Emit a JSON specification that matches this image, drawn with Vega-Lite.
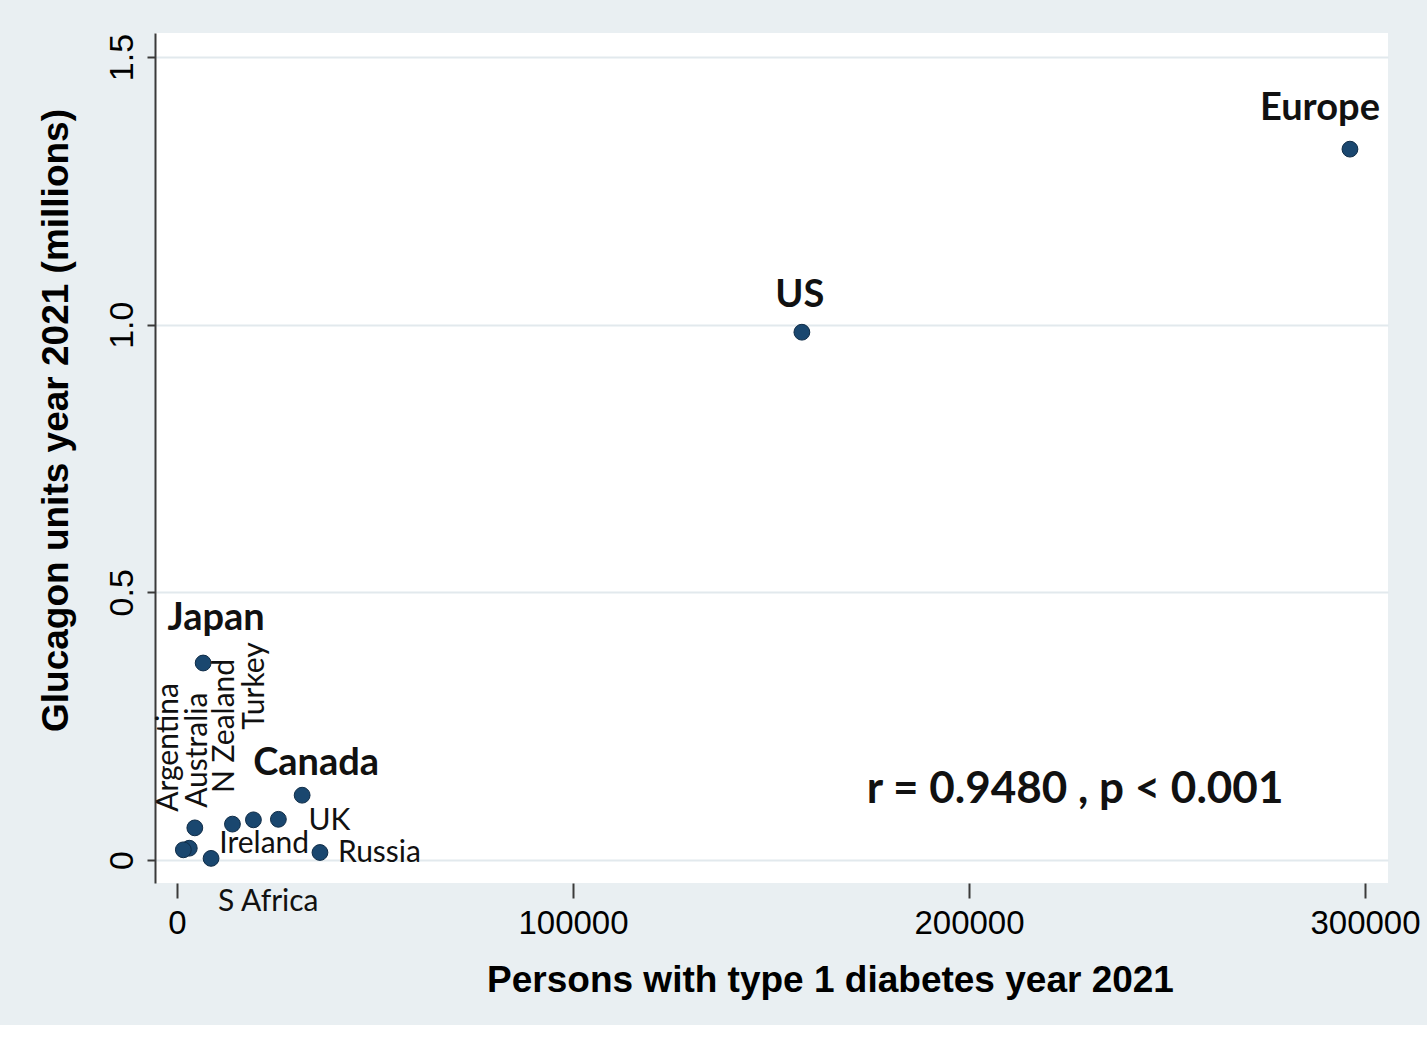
{
  "$schema": "https://vega.github.io/schema/vega-lite/v6.json",
  "width": 1233,
  "height": 850,
  "autosize": {"type": "none"},
  "padding": {"left": 155, "top": 33, "right": 39, "bottom": 142},
  "background": "#e9eff2",
  "config": {
    "view": {"fill": "white", "stroke": null},
    "text": {"color": "#111111"}
  },
  "datasets": {
    "points": [
      {"country": "Europe", "t1d": 296200, "units": 1.328},
      {"country": "US", "t1d": 157800, "units": 0.986},
      {"country": "Japan", "t1d": 6600, "units": 0.368},
      {"country": "Canada", "t1d": 31600, "units": 0.121},
      {"country": "UK", "t1d": 25600, "units": 0.076},
      {"country": "Turkey", "t1d": 19300, "units": 0.075},
      {"country": "N Zealand", "t1d": 14000, "units": 0.067},
      {"country": "Australia", "t1d": 4500, "units": 0.060},
      {"country": "Ireland", "t1d": 3100, "units": 0.022},
      {"country": "Argentina", "t1d": 1600, "units": 0.019},
      {"country": "S Africa", "t1d": 8600, "units": 0.003},
      {"country": "Russia", "t1d": 36100, "units": 0.014}
    ],
    "note": [
      {"t1d": 226800, "units": 0.1065, "label": "r = 0.9480 , p < 0.001"}
    ]
  },
  "data": {"name": "points"},
  "encoding": {
    "x": {
      "field": "t1d",
      "type": "quantitative",
      "scale": {"domain": [-5556, 305808], "nice": false, "zero": false},
      "axis": {
        "title": "Persons with type 1 diabetes year 2021",
        "values": [0, 100000, 200000, 300000],
        "format": "d",
        "domain": false,
        "grid": false,
        "tickSize": 15,
        "tickColor": "#3a3a3a",
        "tickWidth": 2,
        "labelFont": "Liberation Sans",
        "labelFontSize": 33,
        "labelColor": "#000000",
        "labelPadding": 35,
        "labelBaseline": "alphabetic",
        "labelAlign": "center",
        "labelFlush": false,
        "labelOverlap": false,
        "titleFont": "Liberation Sans",
        "titleFontSize": 37,
        "titleFontWeight": "bold",
        "titleColor": "#000000",
        "titleX": 675,
        "titleY": 108,
        "titleBaseline": "alphabetic",
        "titleAlign": "center",
        "titleAnchor": null
      }
    },
    "y": {
      "field": "units",
      "type": "quantitative",
      "scale": {"domain": [-0.043, 1.545], "nice": false, "zero": false},
      "axis": {
        "title": "Glucagon units year 2021 (millions)",
        "values": [0, 0.5, 1, 1.5],
        "labelExpr": "datum.value == 0 ? '0' : format(datum.value, '.1f')",
        "domain": true,
        "domainColor": "#3a3a3a",
        "domainWidth": 2,
        "grid": true,
        "gridColor": "#e2e9ed",
        "gridWidth": 2,
        "tickSize": 8,
        "tickColor": "#3a3a3a",
        "tickWidth": 2,
        "labelFont": "Liberation Sans",
        "labelFontSize": 34,
        "labelColor": "#000000",
        "labelAngle": 270,
        "labelAlign": "center",
        "labelBaseline": "alphabetic",
        "labelPadding": 15,
        "labelFlush": false,
        "labelOverlap": false,
        "titleFont": "Liberation Sans",
        "titleFontSize": 37,
        "titleFontWeight": "bold",
        "titleColor": "#000000",
        "titleAngle": 270,
        "titleX": -88,
        "titleY": 387,
        "titleBaseline": "alphabetic",
        "titleAlign": "center",
        "titleAnchor": null
      }
    }
  },
  "layer": [
    {
      "data": {"values": [{}]},
      "mark": {"type": "rule", "color": "#3a3a3a", "strokeWidth": 2},
      "encoding": {
        "x": {"datum": 0, "type": "quantitative"},
        "x2": {"datum": 300000},
        "y": {"datum": -0.043, "type": "quantitative"}
      }
    },
    {
      "mark": {"type": "point", "filled": true, "shape": "circle", "size": 250, "color": "#1a476f", "opacity": 1, "stroke": "#0f2c47", "strokeWidth": 1}
    },
    {
      "transform": [{"filter": "datum.country === 'Europe'"}],
      "mark": {"type": "text", "font": "Lato", "fontWeight": "bold", "fontSize": 38, "align": "center", "baseline": "alphabetic", "dx": -30, "dy": -29},
      "encoding": {"text": {"field": "country"}}
    },
    {
      "transform": [{"filter": "datum.country === 'US'"}],
      "mark": {"type": "text", "font": "Lato", "fontWeight": "bold", "fontSize": 38, "align": "center", "baseline": "alphabetic", "dx": -2, "dy": -25},
      "encoding": {"text": {"field": "country"}}
    },
    {
      "transform": [{"filter": "datum.country === 'Japan'"}],
      "mark": {"type": "text", "font": "Lato", "fontWeight": "bold", "fontSize": 38, "align": "center", "baseline": "alphabetic", "dx": 13, "dy": -33},
      "encoding": {"text": {"field": "country"}}
    },
    {
      "transform": [{"filter": "datum.country === 'Canada'"}],
      "mark": {"type": "text", "font": "Lato", "fontWeight": "bold", "fontSize": 38, "align": "center", "baseline": "alphabetic", "dx": 14, "dy": -20},
      "encoding": {"text": {"field": "country"}}
    },
    {
      "transform": [{"filter": "datum.country === 'UK'"}],
      "mark": {"type": "text", "font": "Lato", "fontSize": 30, "align": "left", "baseline": "alphabetic", "dx": 30, "dy": 11},
      "encoding": {"text": {"field": "country"}}
    },
    {
      "transform": [{"filter": "datum.country === 'Ireland'"}],
      "mark": {"type": "text", "font": "Lato", "fontSize": 30, "align": "left", "baseline": "alphabetic", "dx": 30, "dy": 5},
      "encoding": {"text": {"field": "country"}}
    },
    {
      "transform": [{"filter": "datum.country === 'Russia'"}],
      "mark": {"type": "text", "font": "Lato", "fontSize": 30, "align": "left", "baseline": "alphabetic", "dx": 18, "dy": 10},
      "encoding": {"text": {"field": "country"}}
    },
    {
      "transform": [{"filter": "datum.country === 'S Africa'"}],
      "mark": {"type": "text", "font": "Lato", "fontSize": 30, "align": "left", "baseline": "alphabetic", "dx": 7, "dy": 53},
      "encoding": {"text": {"field": "country"}}
    },
    {
      "transform": [{"filter": "datum.country === 'Argentina'"}],
      "mark": {"type": "text", "font": "Lato", "fontSize": 30, "angle": 270, "align": "left", "baseline": "alphabetic", "dx": 38, "dy": -5},
      "encoding": {"text": {"field": "country"}}
    },
    {
      "transform": [{"filter": "datum.country === 'Australia'"}],
      "mark": {"type": "text", "font": "Lato", "fontSize": 30, "angle": 270, "align": "left", "baseline": "alphabetic", "dx": 20, "dy": 12},
      "encoding": {"text": {"field": "country"}}
    },
    {
      "transform": [{"filter": "datum.country === 'N Zealand'"}],
      "mark": {"type": "text", "font": "Lato", "fontSize": 30, "angle": 270, "align": "left", "baseline": "alphabetic", "dx": 31, "dy": 2},
      "encoding": {"text": {"field": "country"}}
    },
    {
      "transform": [{"filter": "datum.country === 'Turkey'"}],
      "mark": {"type": "text", "font": "Lato", "fontSize": 30, "angle": 270, "align": "left", "baseline": "alphabetic", "dx": 90, "dy": 11},
      "encoding": {"text": {"field": "country"}}
    },
    {
      "data": {"name": "note"},
      "mark": {"type": "text", "font": "Lato", "fontWeight": "bold", "fontSize": 44, "align": "center", "baseline": "alphabetic"},
      "encoding": {
        "text": {"field": "label", "type": "nominal"}
      }
    }
  ]
}
